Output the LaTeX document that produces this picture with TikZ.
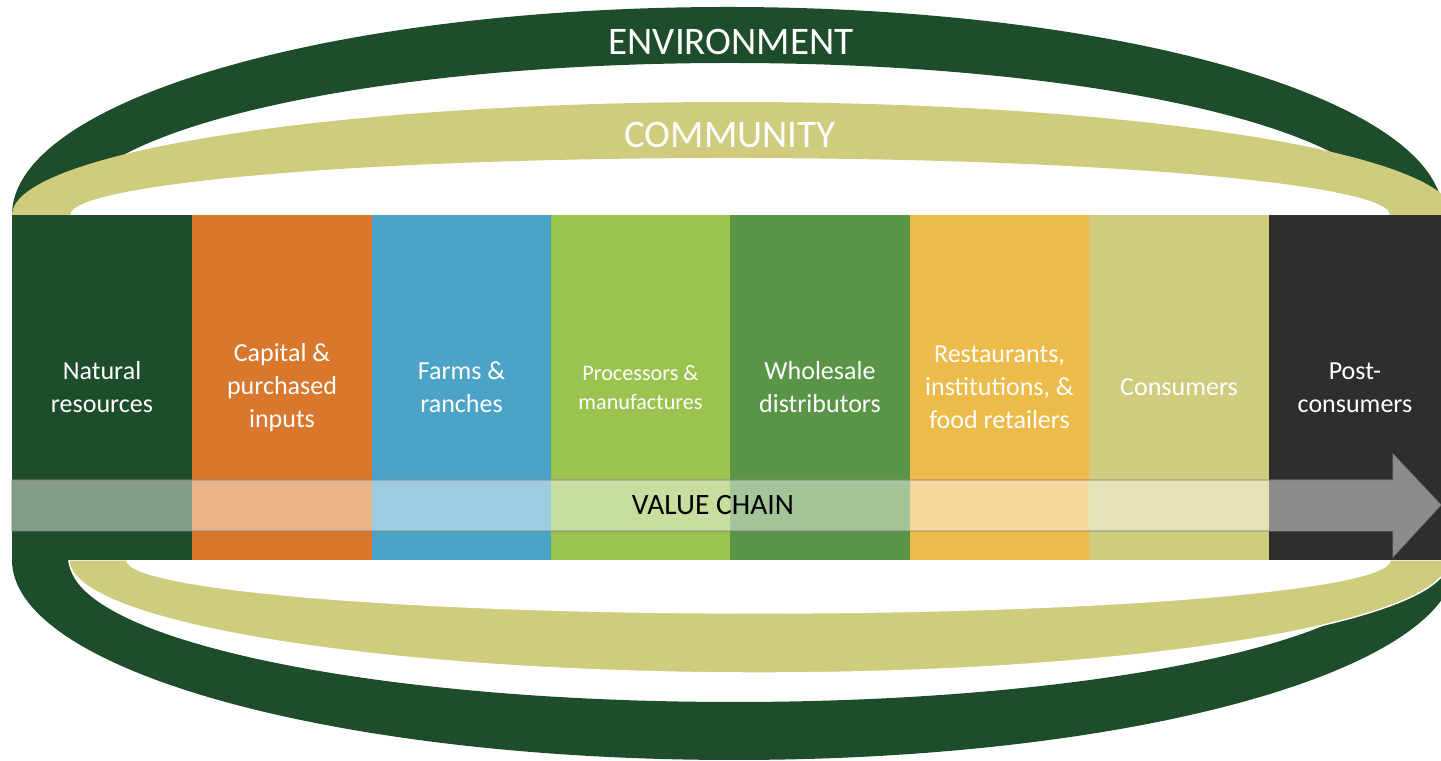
\documentclass[tikz,border=0pt]{standalone}
\usepackage{fontspec}
\setmainfont{Carlito}
\definecolor{envgreen}{HTML}{1E4D2B}
\definecolor{commkhaki}{HTML}{CFCC7E}
\definecolor{caporange}{HTML}{D9782D}
\definecolor{farmblue}{HTML}{4BA3C7}
\definecolor{proclime}{HTML}{9AC34F}
\definecolor{wholegreen}{HTML}{5A9446}
\definecolor{restyellow}{HTML}{ECBB4A}
\definecolor{postblack}{HTML}{2E2E2E}
\begin{document}
\begin{tikzpicture}[x=0.01cm, y=0.01cm,
    stage/.style={minimum width=1.8cm, minimum height=3.45cm, inner sep=0pt,
      align=center, text=white, font=\fontsize{7.4}{9.4}\selectfont},
    ringlabel/.style={anchor=base, text=white, inner sep=0pt,
      font=\fontsize{11.1}{13}\selectfont}]
    \useasboundingbox (0,0) rectangle (1441,761);

    % Rings (environment under community)
    \begin{scope}
        \clip (0,0) rectangle (1441,761);
        \fill[envgreen] (12,546) arc (180:0:715.5 and 208) -- (1390,546)
            arc (0:180:660 and 152) -- cycle;
        \fill[envgreen] (12,201) arc (180:360:722 and 200) -- (1399,201)
            arc (360:180:665 and 142) -- cycle;
        \fill[commkhaki] (12,546) arc (180:0:721 and 113) -- (1390,546)
            arc (0:180:660 and 57) -- cycle;
        \filldraw[fill=commkhaki, draw=white, line width=0.4pt] (69,201)
            arc (180:360:690 and 113) -- (1390,201)
            arc (360:180:631.5 and 53) -- cycle;
    \end{scope}

    % Stages (value chain)
    \node[stage, fill=envgreen] (nat) at (102,373.5) {Natural\\resources};
    \node[stage, fill=caporange] (cap) at (282,373.5) {Capital \&\\purchased\\inputs};
    \node[stage, fill=farmblue, minimum width=1.79cm] (farm) at (461.5,373.5) {Farms \&\\ranches};
    \node[stage, fill=proclime, minimum width=1.79cm,
        font=\fontsize{6.3}{8.2}\selectfont] (proc) at (640.5,373.5) {Processors \&\\manufactures};
    \node[stage, fill=wholegreen] (whole) at (820,373.5) {Wholesale\\distributors};
    \node[stage, fill=restyellow, minimum width=1.79cm] (rest) at (999.5,373.5) {Restaurants,\\institutions, \&\\food retailers};
    \node[stage, fill=commkhaki] (cons) at (1179,373.5) {Consumers};
    \node[stage, fill=postblack, minimum width=1.72cm] (post) at (1355,373.5) {Post-\\consumers};

    % Arrow
    \filldraw[fill=white, fill opacity=0.45, draw=gray, draw opacity=0.6, line width=0.3pt]
        (12,281) -- (1393,281) -- (1393,307) -- (1441,256) -- (1393,204)
        -- (1393,230) -- (12,230) -- cycle;

    % Labels
    \node[ringlabel] (env) at (731,706) {ENVIRONMENT};
    \node[ringlabel] (comm) at (730,613) {COMMUNITY};
    \node[anchor=base, inner sep=0pt, font=\fontsize{8.4}{10}\selectfont] (chain) at (713,246) {VALUE CHAIN};
\end{tikzpicture}
\end{document}
